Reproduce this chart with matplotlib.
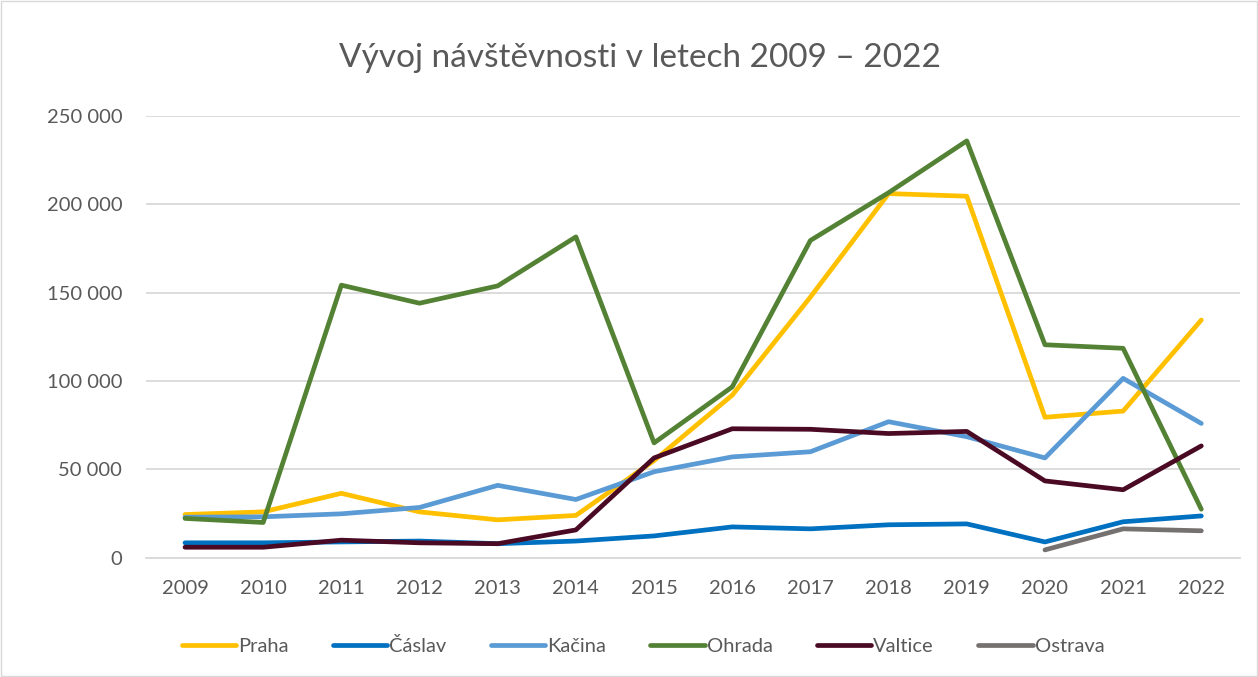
import matplotlib
matplotlib.use('Agg')
import matplotlib.pyplot as plt
from matplotlib.ticker import FuncFormatter
from matplotlib.patches import Rectangle

plt.rcParams['font.family'] = ['Lato', 'DejaVu Sans']

years = ['2009', '2010', '2011', '2012', '2013', '2014', '2015', '2016',
         '2017', '2018', '2019', '2020', '2021', '2022']
praha = [24500, 26000, 36500, 26000, 21500, 24000, 55000, 92000,
         147500, 206000, 204500, 79500, 83000, 134500]
caslav = [8500, 8500, 9000, 9500, 8000, 9500, 12400, 17500,
          16400, 18700, 19200, 9000, 20400, 23700]
kacina = [23000, 23200, 24900, 28500, 41000, 33000, 48700, 57100,
          60000, 77000, 68500, 56500, 101500, 76000]
ohrada = [22300, 20000, 154200, 144000, 153800, 181500, 65000, 96700,
          179500, 206500, 235800, 120500, 118500, 27500]
valtice = [6000, 6000, 10000, 8500, 8000, 15800, 56500, 73000,
           72700, 70300, 71500, 43500, 38500, 63300]
ostrava_years = ['2020', '2021', '2022']
ostrava = [4500, 16400, 15300]

series = [('Praha', praha, '#FFC000'),
          ('Čáslav', caslav, '#0070C0'),
          ('Kačina', kacina, '#5B9BD5'),
          ('Ohrada', ohrada, '#548235'),
          ('Valtice', valtice, '#4A0A24')]

fig = plt.figure(figsize=(12.58, 6.77), dpi=100)
ax = fig.add_axes([0.116, 0.176, 0.870, 0.653])

x = range(len(years))
for name, vals, col in series:
    ax.plot(x, vals, color=col, lw=3.4, label=name, solid_capstyle='round',
            solid_joinstyle='round')
xo = [years.index(y) for y in ostrava_years]
ax.plot(xo, ostrava, color='#767171', lw=3.4, label='Ostrava',
        solid_capstyle='round', solid_joinstyle='round')

ax.set_xlim(-0.5, len(years) - 0.5)
ax.set_ylim(0, 250000)
ax.set_yticks(range(0, 250001, 50000))
ax.yaxis.set_major_formatter(FuncFormatter(lambda v, p: f'{int(v):,}'.replace(',', ' ')))
ax.set_xticks(list(x))
ax.set_xticklabels(years)
ax.grid(axis='y', color='#d9d9d9', lw=1.3)
ax.set_axisbelow(True)
for s in ['top', 'right', 'left']:
    ax.spines[s].set_visible(False)
ax.spines['bottom'].set_color('#d9d9d9')
ax.spines['bottom'].set_linewidth(1.3)
ax.tick_params(length=0, labelsize=14.5, colors='#595959')
ax.tick_params(axis='x', pad=16)
ax.tick_params(axis='y', pad=17)

fig.text(0.509, 0.915, 'Vývoj návštěvnosti v letech 2009 – 2022', ha='center',
         va='center', fontsize=24, color='#595959')

fig.legend(loc='center', bbox_to_anchor=(0.511, 0.046), ncol=6, frameon=False,
           fontsize=14.5, handlelength=2.7, handletextpad=0.1, columnspacing=2.2,
           labelcolor='#595959')

fig.patches.append(Rectangle((0.001, 0.001), 0.998, 0.998, transform=fig.transFigure,
                             fill=False, edgecolor='#d9d9d9', lw=1))

plt.savefig('out.png', dpi=100)
